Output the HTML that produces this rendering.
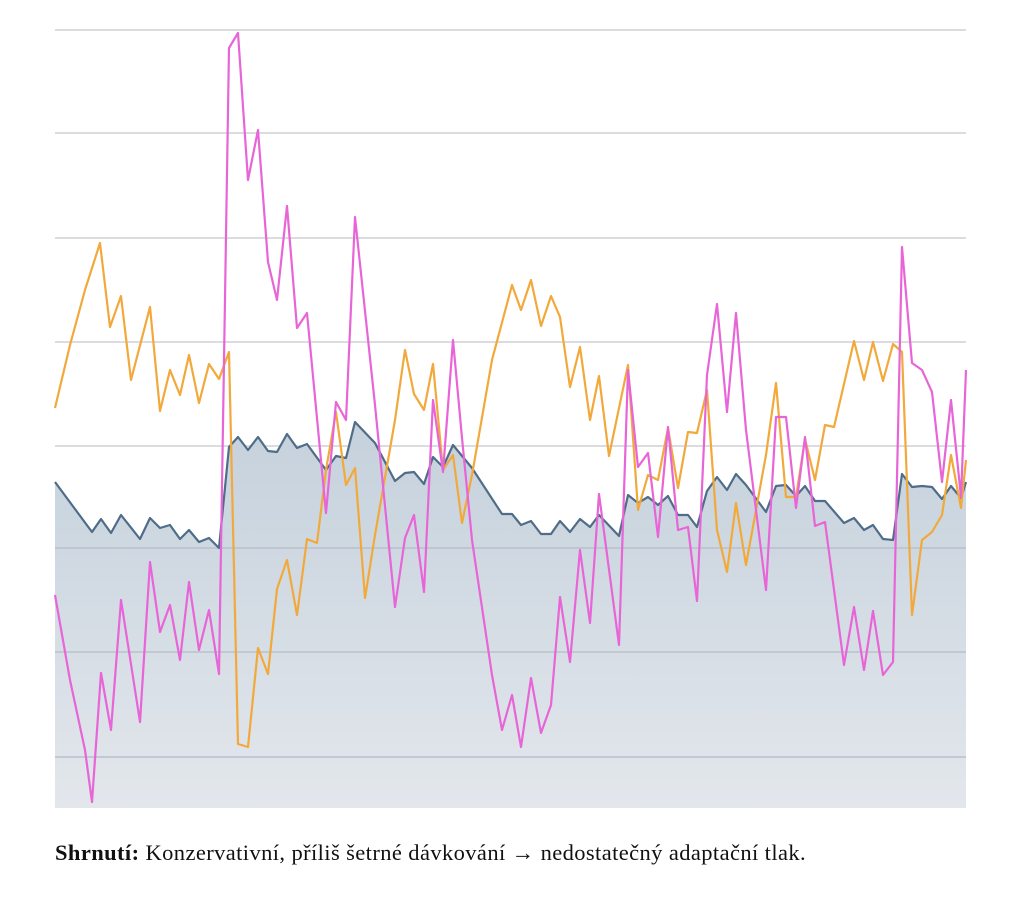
<!DOCTYPE html>
<html><head><meta charset="utf-8"><style>
body{margin:0;background:#fff;width:1024px;height:899px;overflow:hidden}
svg{position:absolute;left:0;top:0}
.cap{position:absolute;left:55px;top:840px;font-family:"Liberation Serif",serif;font-size:22.5px;letter-spacing:0.4px;color:#111;white-space:nowrap;line-height:25px}
</style></head><body>
<svg width="1024" height="830">
<defs><linearGradient id="g" x1="0" y1="0" x2="0" y2="1"><stop offset="0" stop-color="#c5d1dc"/><stop offset="1" stop-color="#e3e7ec"/></linearGradient></defs>
<g stroke="#dcdce0" stroke-width="2">
<line x1="55" x2="966" y1="30" y2="30"/><line x1="55" x2="966" y1="133" y2="133"/><line x1="55" x2="966" y1="238" y2="238"/><line x1="55" x2="966" y1="342" y2="342"/><line x1="55" x2="966" y1="446" y2="446"/></g>
<polygon fill="url(#g)" points="55,808 55,482 92,532 101,519 111,533 121,515 140,539 150,518 160,528 170,525 180,539 189,530 199,542 209,538 219,548 229,447 238,437 248,450 258,437 268,451 277,452 287,434 297,448 307,444 326,470 336,456 346,458 355,422 375,443 395,481 405,473 414,472 424,484 433,457 443,467 453,445 472,468 502,514 512,514 521,525 531,521 541,534 551,534 560,521 570,532 580,519 590,527 599,515 619,536 628,495 638,503 648,497 658,505 668,496 678,515 688,515 697,527 707,491 717,477 727,490 736,474 746,485 766,512 776,486 786,485 796,496 805,486 815,501 825,501 844,523 854,518 864,530 873,525 883,539 893,540 902,474 912,487 922,486 932,487 942,499 951,486 961,498 966,482 966,808"/>
<g stroke="#b8c0cc" stroke-width="1.5"><line x1="55" x2="966" y1="548" y2="548"/><line x1="55" x2="966" y1="652" y2="652"/><line x1="55" x2="966" y1="757" y2="757"/></g>
<g fill="none" stroke-width="2.2" stroke-linejoin="round">
<polyline stroke="#4f6d88" points="55,482 92,532 101,519 111,533 121,515 140,539 150,518 160,528 170,525 180,539 189,530 199,542 209,538 219,548 229,447 238,437 248,450 258,437 268,451 277,452 287,434 297,448 307,444 326,470 336,456 346,458 355,422 375,443 395,481 405,473 414,472 424,484 433,457 443,467 453,445 472,468 502,514 512,514 521,525 531,521 541,534 551,534 560,521 570,532 580,519 590,527 599,515 619,536 628,495 638,503 648,497 658,505 668,496 678,515 688,515 697,527 707,491 717,477 727,490 736,474 746,485 766,512 776,486 786,485 796,496 805,486 815,501 825,501 844,523 854,518 864,530 873,525 883,539 893,540 902,474 912,487 922,486 932,487 942,499 951,486 961,498 966,482"/>
<polyline stroke="#f2a93b" points="55,408 70,345 85,290 100,243 110,327 121,296 131,380 150,307 160,411 170,370 180,395 189,355 199,403 209,364 219,379 229,352 238,744 248,747 258,648 268,674 277,589 287,560 297,615 307,539 317,543 326,470 336,412 346,485 355,468 365,598 375,535 395,420 405,350 414,394 424,410 433,364 443,470 453,455 462,523 472,475 492,360 512,285 521,310 531,280 541,326 551,296 560,317 570,387 580,347 590,420 599,376 609,456 628,365 638,510 648,475 658,480 668,428 678,488 688,432 697,433 707,390 717,530 727,572 736,503 746,565 766,455 776,383 786,497 796,497 805,439 815,480 825,425 834,427 854,341 864,380 873,342 883,381 893,344 902,352 912,615 922,540 932,532 942,515 951,455 961,508 966,460"/>
<polyline stroke="#e865d8" points="55,595 70,680 85,750 92,802 101,673 111,730 121,600 140,722 150,562 160,632 170,605 180,660 189,582 199,650 209,610 219,674 229,48 238,33 248,180 258,130 268,262 277,300 287,206 297,328 307,313 326,513 336,402 346,420 355,217 375,405 395,607 405,538 414,515 424,592 433,400 443,472 453,340 462,438 472,540 492,675 502,730 512,695 521,747 531,678 541,733 551,705 560,597 570,662 580,550 590,623 599,494 619,645 628,370 638,467 648,453 658,537 668,427 678,530 688,527 697,601 707,375 717,304 727,412 736,313 746,430 766,590 776,417 786,417 796,508 805,437 815,526 825,522 844,665 854,607 864,670 873,611 883,675 893,662 902,247 912,363 922,370 932,392 942,482 951,400 961,497 966,370"/>
</g>
</svg>
<div class="cap"><b>Shrnutí:</b> Konzervativní, příliš šetrné dávkování → nedostatečný adaptační tlak.</div>
</body></html>
